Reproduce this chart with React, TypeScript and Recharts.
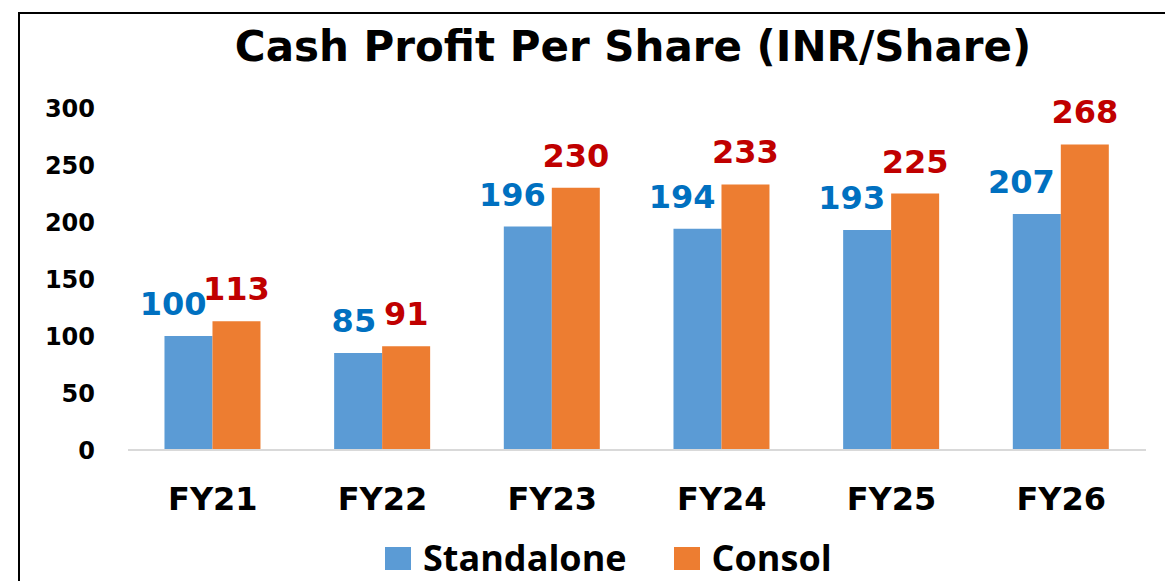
import { BarChart, Bar, XAxis, YAxis, Legend, LabelList } from 'recharts'

const years = ['FY21', 'FY22', 'FY23', 'FY24', 'FY25', 'FY26']
const standalone = [100, 85, 196, 194, 193, 207]
const consol = [113, 91, 230, 233, 225, 268]
const yTicks = [0, 50, 100, 150, 200, 250, 300]

const data = years.map((year, i) => ({
  year,
  standalone: standalone[i],
  consol: consol[i]
}))

const WIDE = '"DejaVu Sans", Verdana, sans-serif'
const NARROW = '"Open Sans", "DejaVu Sans", sans-serif'

// blue labels sit to the left, ending near the bar's right edge
const StandaloneLabel = (props: any) => {
  const { x, y, width, value } = props
  return (
    <text x={x + width - 6} y={y - 21} textAnchor="end" fill="#0070C0"
      fontSize={32} fontWeight={700} fontFamily={WIDE}>
      {value}
    </text>
  )
}

const ConsolLabel = (props: any) => {
  const { x, y, width, value } = props
  return (
    <text x={x + width / 2} y={y - 21} textAnchor="middle" fill="#C00000"
      fontSize={32} fontWeight={700} fontFamily={WIDE}>
      {value}
    </text>
  )
}

const legendItems = [
  { name: 'Standalone', color: '#5B9BD5' },
  { name: 'Consol', color: '#ED7D31' }
]

const renderLegend = () => (
  <div style={{ display: 'flex', alignItems: 'center', paddingLeft: 377, fontFamily: NARROW }}>
    {legendItems.map((item, i) => (
      <div key={item.name} style={{ display: 'flex', alignItems: 'center', marginLeft: i ? 47 : 0 }}>
        <span style={{ width: 26, height: 23, background: item.color, display: 'inline-block', marginRight: 12 }} />
        <span style={{ fontSize: 36, fontWeight: 700, color: '#000', lineHeight: '36px' }}>{item.name}</span>
      </div>
    ))}
  </div>
)

export default function App() {
  return (
    <div style={{ position: 'relative', width: 1165, height: 573, overflow: 'hidden', background: '#fff' }}>
      <div style={{
        position: 'absolute', left: 10, top: 4, width: 1300, height: 700,
        borderLeft: '2px solid #000', borderTop: '2px solid #000'
      }} />
      <div style={{
        position: 'absolute', left: 0, width: 1250, top: 14, textAlign: 'center',
        fontFamily: WIDE, fontSize: 42, fontWeight: 700, color: '#000'
      }}>
        Cash Profit Per Share (INR/Share)
      </div>
      <div style={{ position: 'absolute', left: 0, top: 0 }}>
        <BarChart width={1165} height={573} data={data}
          margin={{ top: 100, right: 27, bottom: 0, left: 0 }}
          barCategoryGap="21.5%" barGap={0}>
          <XAxis dataKey="year" axisLine={{ stroke: '#D9D9D9', strokeWidth: 2 }} tickLine={false}
            tickSize={0} tickMargin={37} height={80}
            tick={{ fill: '#000', fontSize: 32, fontWeight: 700, fontFamily: WIDE }} />
          <YAxis domain={[0, 300]} ticks={yTicks} axisLine={false} tickLine={false}
            tickSize={0} tickMargin={33} width={120}
            tick={{ fill: '#000', fontSize: 24, fontWeight: 700, fontFamily: WIDE }} />
          <Legend verticalAlign="bottom" content={renderLegend}
            wrapperStyle={{ height: 51, top: 532, left: 0, width: 1165 }} />
          <Bar dataKey="standalone" name="Standalone" fill="#5B9BD5" isAnimationActive={false}>
            <LabelList dataKey="standalone" content={StandaloneLabel} />
          </Bar>
          <Bar dataKey="consol" name="Consol" fill="#ED7D31" isAnimationActive={false}>
            <LabelList dataKey="consol" content={ConsolLabel} />
          </Bar>
        </BarChart>
      </div>
    </div>
  )
}
